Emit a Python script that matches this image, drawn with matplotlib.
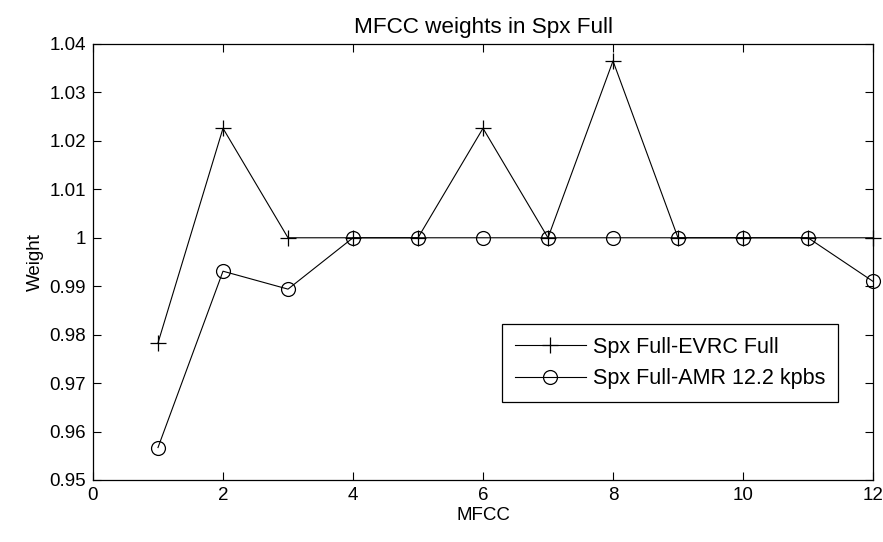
import matplotlib
matplotlib.use('Agg')
from matplotlib import pyplot
import numpy as np

# data
mfcc = [1, 2, 3, 4, 5, 6, 7, 8, 9, 10, 11, 12]
evrc_full = [0.9783, 1.0226, 1.0, 1.0, 1.0, 1.0226, 1.0, 1.0365, 1.0, 1.0, 1.0, 1.0]
amr_122 = [0.9567, 0.9931, 0.9894, 1.0, 1.0, 1.0, 1.0, 1.0, 1.0, 1.0, 1.0, 0.991]
labels = ['Spx Full-EVRC Full', 'Spx Full-AMR 12.2 kpbs']

xticks = np.arange(0, 13, 2)
yticks = np.arange(0.95, 1.0401, 0.01)
ytick_labels = ['0.95', '0.96', '0.97', '0.98', '0.99', '1', '1.01', '1.02', '1.03', '1.04']

pyplot.rcParams['font.family'] = ['Liberation Sans', 'DejaVu Sans']
pyplot.rcParams['font.size'] = 13.5

fig = pyplot.figure(figsize=(8.83, 5.42), dpi=100)
ax = fig.add_axes([93/883., 1 - 480/542., 780/883., 436/542.])

ax.plot(mfcc, evrc_full, color='black', lw=0.8, marker='+', ms=11, mew=0.9,
        clip_on=False, label=labels[0])
ax.plot(mfcc, amr_122, color='black', lw=0.8, marker='o', ms=10, mew=0.9,
        mfc='none', clip_on=False, label=labels[1])

ax.set_xlim(0, 12)
ax.set_ylim(0.95, 1.04)
ax.set_xticks(xticks)
ax.set_yticks(yticks)
ax.set_yticklabels(ytick_labels)
ax.tick_params(direction='in', length=6, width=0.8, top=True, right=True, pad=5)
for sp in ax.spines.values():
    sp.set_linewidth(0.9)

ax.set_xlabel('MFCC', labelpad=2)
ax.set_ylabel('Weight', labelpad=4)
ax.set_title('MFCC weights in Spx Full', pad=8)

legend = ax.legend(loc='center', bbox_to_anchor=(670/883., 1 - 363/542.),
                   bbox_transform=fig.transFigure, fancybox=False,
                   edgecolor='black', framealpha=1, fontsize=15.5,
                   handlelength=3.3, handletextpad=0.35,
                   borderpad=0.6, labelspacing=0.5, borderaxespad=0)
legend.get_frame().set_linewidth(0.9)

pyplot.savefig('out.png', dpi=100)
pyplot.close()
